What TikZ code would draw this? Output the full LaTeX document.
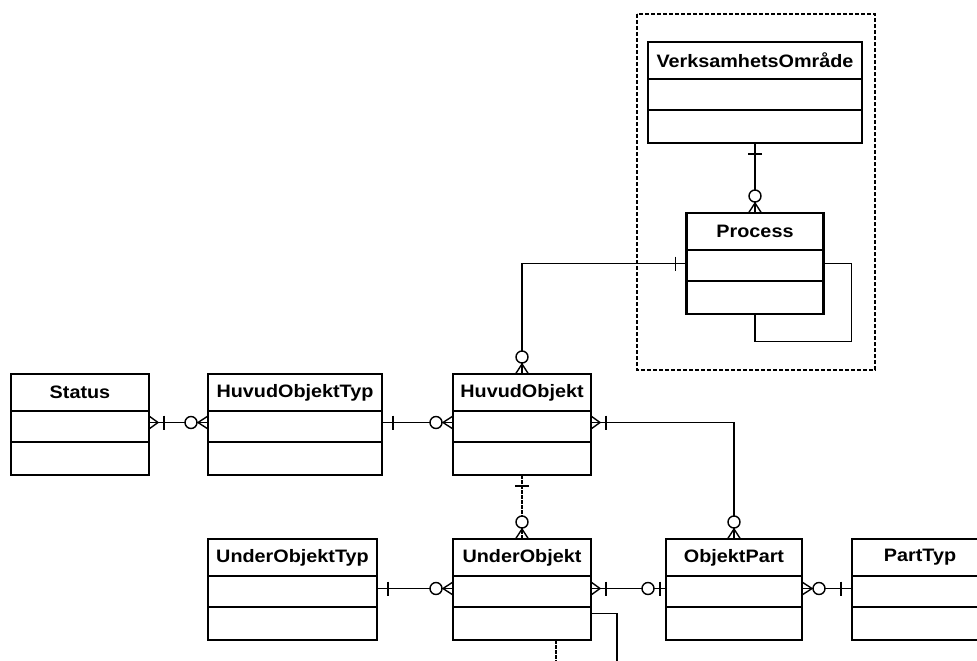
\documentclass[tikz,border=0pt]{standalone}
\usepackage{fontspec}
\newfontfamily\erfont{Liberation Sans}
\usetikzlibrary{decorations.markings}

% pieces of the relation ends, drawn at the end of a line
\newcommand{\erCrow}[1]{\draw[solid, line width=1.4pt] (0,-6.5) -- (#1,0) -- (0,6.5);}
\newcommand{\erRing}[1]{\draw[solid, line width=1.4pt, fill=white] (#1,0) circle (6pt);}
\newcommand{\erBar}[1]{\draw[solid, line width=1.4pt] (#1,-7) -- (#1,7);}

\tikzset{
  zmany end/.style={postaction={decorate, decoration={markings, mark=at position 1 with {\erCrow{-10}\erRing{-17}}}}},
  zmany start/.style={postaction={decorate, decoration={markings, mark=at position 0 with {\begin{scope}[xscale=-1]\erCrow{-10}\erRing{-17}\end{scope}}}}},
  one end/.style={postaction={decorate, decoration={markings, mark=at position 1 with {\erBar{-11}}}}},
  one start/.style={postaction={decorate, decoration={markings, mark=at position 0 with {\begin{scope}[xscale=-1]\erBar{-11}\end{scope}}}}},
  omany start/.style={postaction={decorate, decoration={markings, mark=at position 0 with {\begin{scope}[xscale=-1]\erCrow{-9}\erBar{-15}\end{scope}}}}},
  zone end/.style={postaction={decorate, decoration={markings, mark=at position 1 with {\erBar{-6}\erRing{-18}}}}}
}

\begin{document}
\begin{tikzpicture}[x=1pt, y=-1pt,
  entity/.style={draw, line width=2.2pt, anchor=north west, minimum height=101pt, inner sep=0pt, outer sep=0pt},
  title/.style={font=\erfont\bfseries\fontsize{18}{21}\selectfont, xscale=1.1, inner sep=0pt},
  divider/.style={line width=2pt},
  conn/.style={line width=1.9pt},
  thinconn/.style={line width=1.1pt, dash pattern=on 4pt off 1pt},
  loopline/.style={line width=1.6pt},
  frame/.style={line width=1.3pt, dash pattern=on 4pt off 2pt}]
\useasboundingbox (0,0) rectangle (977,661);

% group frame
\draw[frame] (637,14) rectangle (875,370);

% entities
\foreach \n/\x/\y/\w/\t in {status/11/374/138/Status, hot/208/374/174/HuvudObjektTyp,
    ho/453/374/138/HuvudObjekt, vo/648/42/214/VerksamhetsOmråde, proc/686.5/213/137/Process,
    uot/208/539/169/UnderObjektTyp, uo/453/539/138/UnderObjekt, op/666/539/136/ObjektPart,
    pt/852/539/136/PartTyp}{
  \node[entity, minimum width=\w pt] (\n) at (\x,\y) {};
  \node[title] (\n-t) at ([yshift=-18.5pt]\n.north) {\t};
  \draw[divider] ([yshift=-37pt]\n.north west) -- ([yshift=-37pt]\n.north east);
  \draw[divider] ([yshift=-68pt]\n.north west) -- ([yshift=-68pt]\n.north east);
}

% relations
\draw[conn, one start, zmany end] (vo.south) -- (proc.north);
\draw[conn, zmany start, one end] (ho.north) |- (proc.west);
\draw[loopline] (proc.east) -- ++(28,0) -- ++(0,78) -| (proc.south);
\draw[conn, omany start, zmany end] ([yshift=2pt]status.east) -- ([yshift=2pt]hot.west);
\draw[conn, one start, zmany end] ([yshift=2pt]hot.east) -- ([yshift=2pt]ho.west);
\draw[conn, omany start, zmany end] ([yshift=2pt]ho.east) -| (op.north);
\draw[thinconn, one start, zmany end] (ho.south) -- (uo.north);
\draw[conn, one start, zmany end] ([yshift=1pt]uot.east) -- ([yshift=1pt]uo.west);
\draw[conn, omany start, zone end] ([yshift=1pt]uo.east) -- ([yshift=1pt]op.west);
\draw[conn, zmany start, one end] ([yshift=1pt]op.east) -- ([yshift=1pt]pt.west);

% lines running off the page
\coordinate (uo-out) at (617,670);
\coordinate (uo-down) at (556,670);
\draw[conn] ([yshift=-24pt]uo.east) -| (uo-out);
\draw[thinconn] ([xshift=34pt]uo.south) -- (uo-down);
\end{tikzpicture}
\end{document}
